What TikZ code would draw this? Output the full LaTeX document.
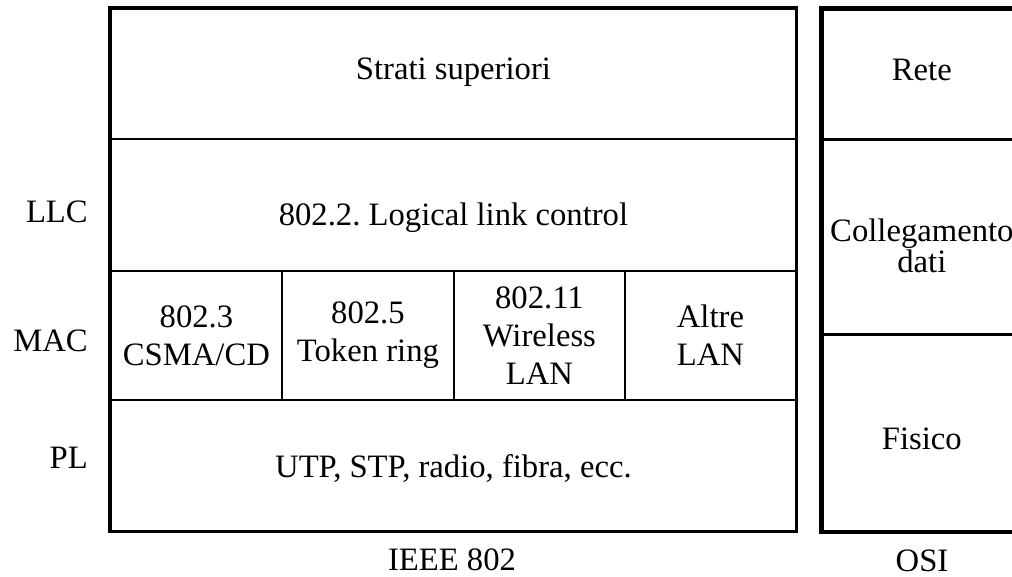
\documentclass[tikz,border=0pt]{standalone}
\usepackage{fontspec}
\setmainfont{Liberation Serif}
\usepackage{tikz}
\usetikzlibrary{positioning}
\frenchspacing

\begin{document}
\begin{tikzpicture}[
  x=0.75pt,y=-0.75pt,
  txt/.style={font=\fontsize{24.5}{28.5}\selectfont},
  cell/.style={txt,rectangle,draw=black,line width=1.4pt,inner sep=0pt,align=center,anchor=north west},
  osicell/.style={cell,line width=2pt,minimum width=149.25pt},
  textdrop/.style={text height=#1,text depth=0pt},
  border/.style={draw=black,line width=2.4pt},
  lab/.style={txt,inner sep=0pt,anchor=east}
]
  \useasboundingbox (0,0) rectangle (1012,577);
  \clip (0,0) rectangle (1012,577);

  % IEEE 802 stack
  \node[cell,minimum width=513.75pt,minimum height=97.5pt,textdrop=9pt] (sup) at (110,8) {Strati superiori};
  \node[cell,minimum width=513.75pt,minimum height=99pt,textdrop=31pt] (llc) at (110,138) {802.2. Logical link control};
  \node[cell,minimum width=128.25pt,minimum height=96.75pt] (csma) at (110,270) {802.3\\CSMA/CD};
  \node[cell,minimum width=129pt,minimum height=96.75pt] (token) at (281,270) {802.5\\Token ring};
  \node[cell,minimum width=128.25pt,minimum height=96.75pt] (wlan) at (453,270) {802.11\\Wireless\\LAN};
  \node[cell,minimum width=128.25pt,minimum height=96.75pt] (altre) at (624,270) {Altre\\LAN};
  \node[cell,minimum width=513.75pt,minimum height=98.25pt,textdrop=18.8pt] (pl) at (110,399) {UTP, STP, radio, fibra, ecc.};
  \draw[border] (sup.north west) rectangle (pl.south east);

  % OSI stack
  \node[osicell,minimum height=97.5pt,textdrop=9pt] (rete) at (821,8) {Rete};
  \node[osicell,minimum height=146.25pt,textdrop=54pt,font=\fontsize{24.5}{21}\selectfont] (coll) at (821,138) {Collegamento\\dati};
  \node[osicell,minimum height=147.75pt,textdrop=24.8pt] (fisico) at (821,333) {Fisico};
  \draw[border] (rete.north west) rectangle (fisico.south east);

  % layer names
  \node[lab] (lllc) at (88,212) {LLC};
  \node[lab] (lmac) at (88,341) {MAC};
  \node[lab] (lpl) at (88,458) {PL};

  \node[txt,inner sep=0pt] (ieee) at (452,560) {IEEE 802};
  \node[txt,inner sep=0pt] (osi) at (922,561) {OSI};
\end{tikzpicture}
\end{document}
